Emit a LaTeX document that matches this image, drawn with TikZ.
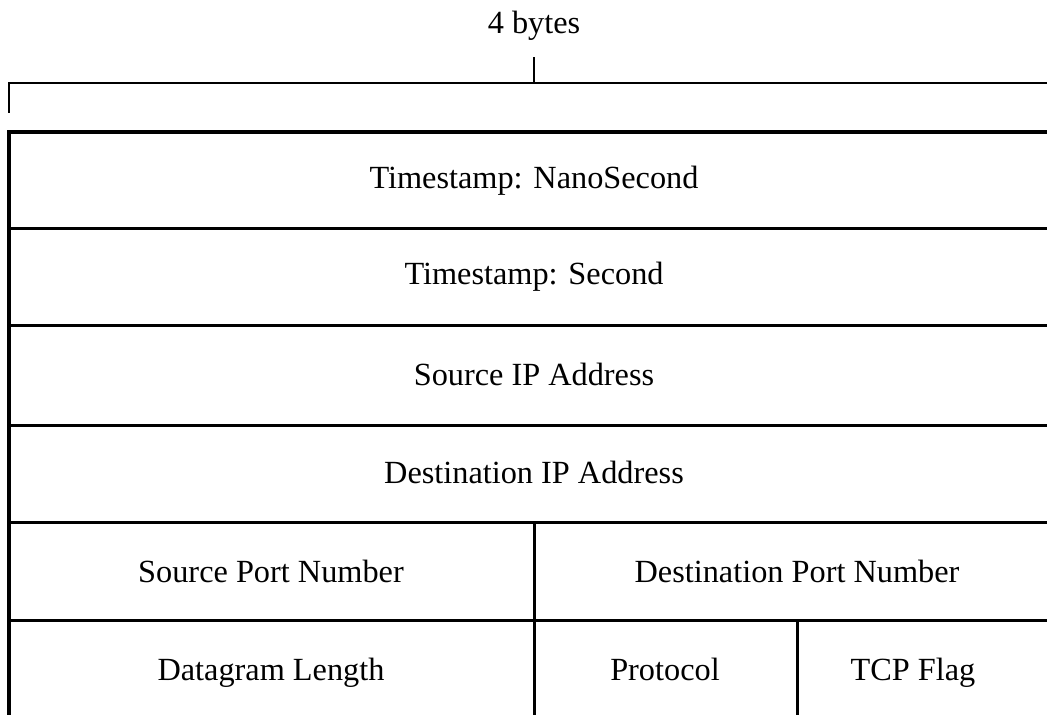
\documentclass[tikz,border=0pt]{standalone}
\usepackage{fontspec}
\setmainfont{Liberation Serif}
\begin{document}
\begin{tikzpicture}[x=0.5pt,y=-0.5pt,
  thin line/.style={line width=0.75pt, line cap=rect},
  cell line/.style={line width=1.5pt, line cap=rect},
  label/.style={inner sep=0pt, font=\fontsize{16.15}{19}\selectfont, anchor=base}]
\useasboundingbox (0,0) rectangle (1047,715);
% bracket
\node[label] (bytes) at (534,34) {4 bytes};
\coordinate (bl) at (9,83);
\coordinate (br) at (1047,83);
\coordinate (bm) at (534,83);
\coordinate (bmt) at (534,58);
\coordinate (blt) at (9,112);
\draw[thin line] (blt) -- (bl) -- (br);
\draw[thin line] (bm) -- (bmt);
% table
\draw[line width=1.9pt] (9,715) -- (9,132) -- (1047,132);
\foreach \y in {229,326,425,522,620}
  \draw[cell line] (9,\y) -- (1047,\y);
\draw[cell line] (534,522) -- (534,715);
\draw[cell line] (797,620) -- (797,715);
% labels
\node[label] (ns) at (534,189) {Timestamp: NanoSecond};
\node[label] (sec) at (534,285) {Timestamp: Second};
\node[label] (sip) at (534,386) {Source IP Address};
\node[label] (dip) at (534,483) {Destination IP Address};
\node[label] (sport) at (271,582) {Source Port Number};
\node[label] (dport) at (797,582) {Destination Port Number};
\node[label] (dlen) at (271,680) {Datagram Length};
\node[label] (proto) at (665,680) {Protocol};
\node[label] (tcp) at (913,680) {TCP Flag};
\end{tikzpicture}
\end{document}
